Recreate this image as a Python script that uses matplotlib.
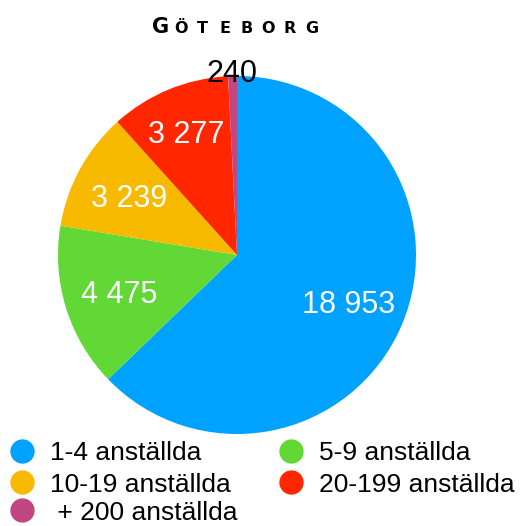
import matplotlib.pyplot as plt
from matplotlib.lines import Line2D
import numpy as np

# data
categories = ['1-4 anställda', '5-9 anställda', '10-19 anställda', '20-199 anställda', ' + 200 anställda']
values = [18953, 4475, 3239, 3277, 240]
colors = ['#00A2FF', '#61D836', '#F8BA00', '#FF2600', '#C2467F']
title = 'Göteborg'

W, H = 523, 526
fig = plt.figure(figsize=(W / 100, H / 100), dpi=100)

# pie axes, centre (237,255) px, radius 179 px
cx, cy, r = 237, 255, 179
ax = fig.add_axes([(cx - r) / W, (H - cy - r) / H, 2 * r / W, 2 * r / H])
wedges, texts, autotexts = ax.pie(values, colors=colors, startangle=90, counterclock=False,
                                  autopct='%1.0f', pctdistance=0.68,
                                  wedgeprops=dict(linewidth=0))
ax.set_xlim(-1, 1)
ax.set_ylim(-1, 1)
ax.axis('off')

# label distance from centre, per wedge
label_r = [0.677, 0.689, 0.685, 0.742, 1.03]
half_cap = 11.0 / r
for w, t, v, lr in zip(wedges, autotexts, values, label_r):
    ang = np.deg2rad((w.theta1 + w.theta2) / 2)
    t.set_position((lr * np.cos(ang), lr * np.sin(ang) - half_cap))
    t.set_va('baseline')
    t.set_text(f'{v:,}'.replace(',', ' '))
    t.set_fontsize(22)
    t.set_family('Liberation Sans')
    t.set_color('white' if v > 1000 else 'black')

# title in small caps
fig.text(161 / W, 1 - 33.3 / H, title[0].upper(), fontsize=15, fontweight='bold',
         family='DejaVu Sans', ha='center', va='baseline')
for i, ch in enumerate(title[1:].upper()):
    fig.text((181 + i * 21.8) / W, 1 - 33.3 / H, ch, fontsize=11.5, fontweight='bold',
             family='DejaVu Sans', ha='center', va='baseline')

# legend
pos = [(22, 451), (291, 451), (22, 482), (291, 482), (22, 510)]
for (x, y), lab, c in zip(pos, categories, colors):
    fig.add_artist(Line2D([x / W], [1 - y / H], marker='o', markersize=16.5, color=c,
                          linestyle='none', transform=fig.transFigure))
    fig.text((x + 28) / W, 1 - (y + 9.5) / H, lab, fontsize=19, family='Liberation Sans',
             ha='left', va='baseline')

fig.savefig('out.png', dpi=100)
